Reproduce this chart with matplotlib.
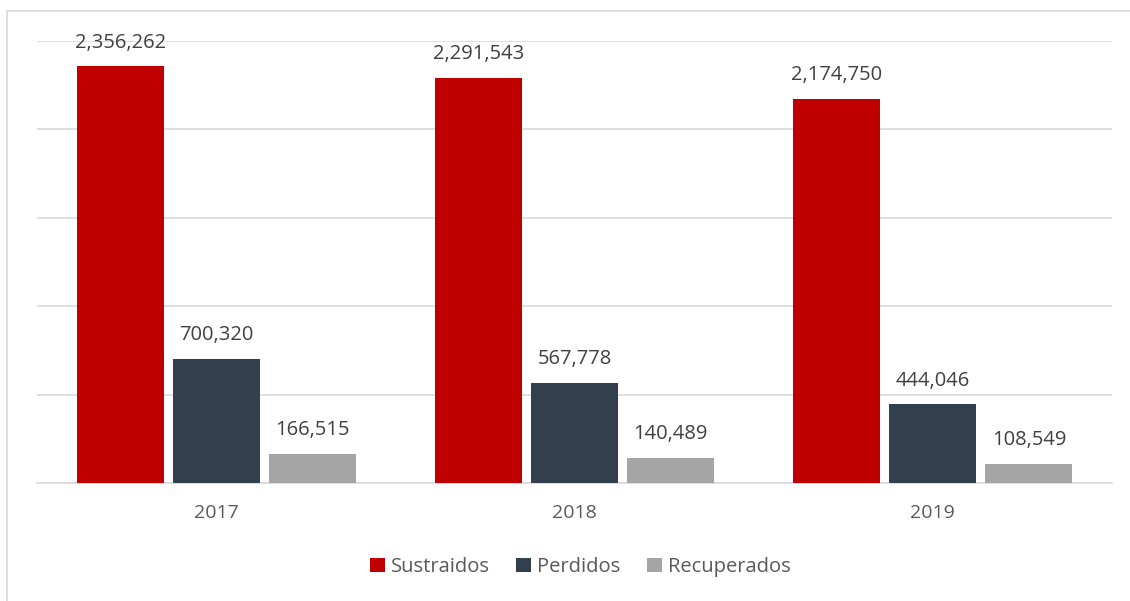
import matplotlib.pyplot as plt
from matplotlib.patches import Rectangle
import numpy as np

# Dane
anios = ['2017', '2018', '2019']
sustraidos = [2356262, 2291543, 2174750]
perdidos = [700320, 567778, 444046]
recuperados = [166515, 140489, 108549]

series = [('Sustraidos', sustraidos, '#c00000'),
          ('Perdidos', perdidos, '#323f4f'),
          ('Recuperados', recuperados, '#a5a5a5')]

plt.rcParams['font.family'] = ['Open Sans', 'DejaVu Sans']
texto = '#595959'

fig = plt.figure(figsize=(11.3, 6.01), dpi=100)
ax = fig.add_axes([37 / 1130, 1 - 483 / 601, 1075 / 1130, 442 / 601])

# Ramka wykresu
fig.patches.append(Rectangle((7 / 1130, -0.1), 1.2, 1 - 11 / 601 + 0.1,
                             transform=fig.transFigure, fill=False,
                             edgecolor='#d9d9d9', linewidth=1.2))

x = np.arange(len(anios))
ancho = 0.243
paso = 0.268
for i, (nombre, valores, color) in enumerate(series):
    pos = x + (i - 1) * paso
    ax.bar(pos, valores, ancho, color=color, label=nombre, zorder=3)
    for px, v in zip(pos, valores):
        ax.annotate(f'{v:,}', (px, v), xytext=(0, 10), textcoords='offset points',
                    ha='center', va='bottom', fontsize=14.5, color='#404040')

ax.set_xlim(-0.5, 2.5)
ax.set_ylim(0, 2500000)
ax.set_yticks(np.arange(0, 2500001, 500000))
ax.yaxis.grid(True, color='#d9d9d9', linewidth=1.2, zorder=0)
ax.tick_params(axis='y', left=False, labelleft=False)
ax.set_xticks(x)
ax.set_xticklabels(anios, fontsize=14, color=texto)
ax.tick_params(axis='x', length=0, pad=15)
for s in ['top', 'right', 'left']:
    ax.spines[s].set_visible(False)
ax.spines['bottom'].set_color('#d9d9d9')
ax.spines['bottom'].set_linewidth(1.2)

fig.legend(loc='center', bbox_to_anchor=(580 / 1130, 1 - 567 / 601), ncol=3,
           frameon=False, fontsize=14.5, labelcolor=texto, handlelength=0.75,
           handleheight=0.75, handletextpad=0.3, columnspacing=1.3)

fig.savefig('out.png', dpi=100)
